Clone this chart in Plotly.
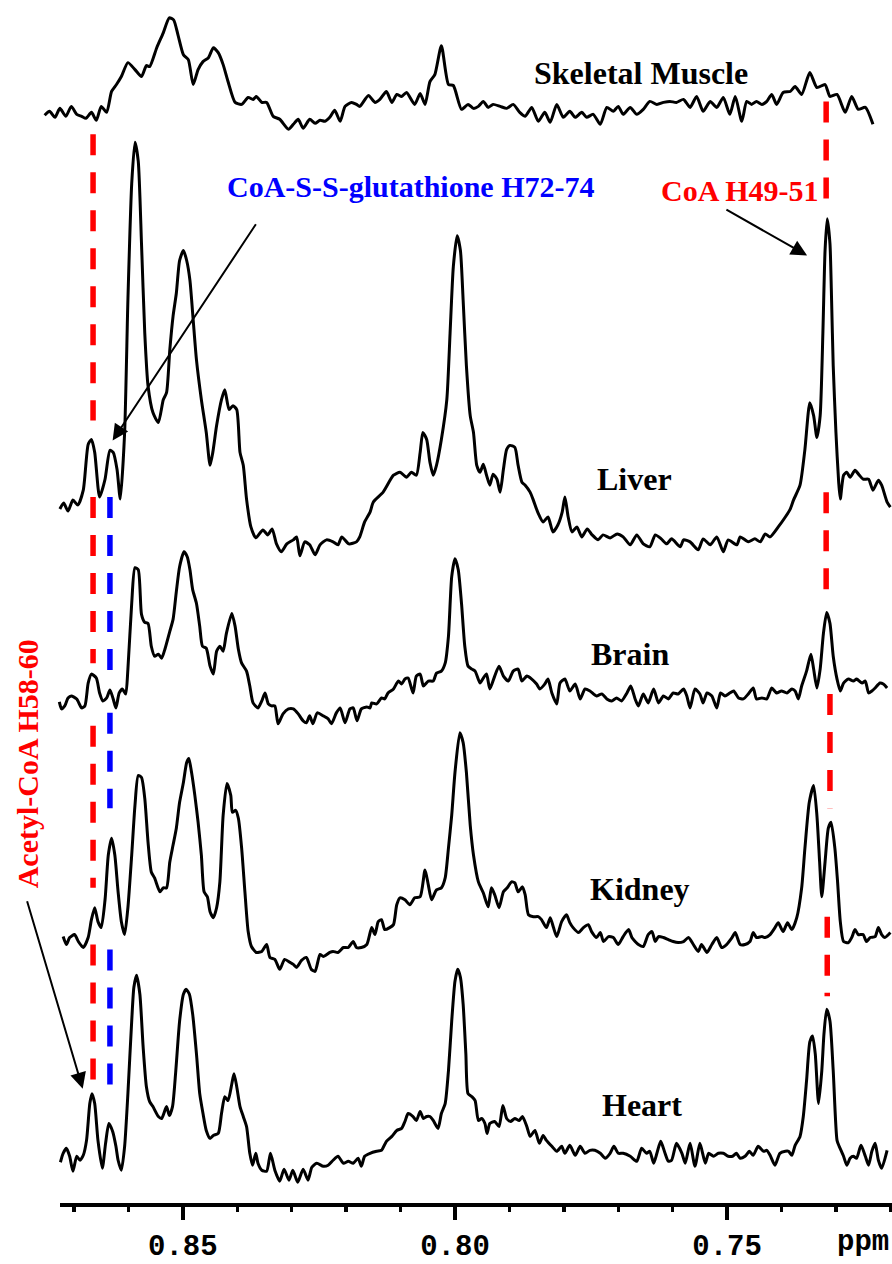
import plotly.graph_objects as go

# ---------------- data (ppm, intensity above own baseline, a.u.) ----------------
tick_major = [0.85, 0.80, 0.75]
tick_major_text = ["0.85", "0.80", "0.75"]
tick_minor = [0.87, 0.86, 0.84, 0.83, 0.82, 0.81, 0.79, 0.78, 0.77, 0.76, 0.74, 0.73, 0.72]

skeletal = [(0.8754,9),(0.8745,13),(0.8735,7),(0.8726,16),(0.8715,8),(0.8705,18),(0.8695,10),(0.8686,8),(0.8678,6),(0.8668,12),
 (0.8659,4),(0.8650,18),(0.8640,12),(0.8631,33),(0.8622,40),(0.8613,48),(0.8601,62),(0.8588,55),(0.8576,48),(0.8567,59),
 (0.8561,58),(0.8548,77),(0.8536,92),(0.8525,107),(0.8517,105),(0.8509,90),(0.8499,70),(0.8490,65),(0.8481,40),(0.8472,55),
 (0.8463,63),(0.8453,67),(0.8444,77),(0.8435,72),(0.8426,60),(0.8417,43),(0.8404,22),(0.8392,20),(0.8380,27),(0.8371,25),
 (0.8365,28),(0.8355,22),(0.8346,22),(0.8334,8),(0.8322,5),(0.8306,-5),(0.8297,0),(0.8288,5),(0.8279,-4),(0.8267,5),
 (0.8257,1),(0.8248,4),(0.8239,3),(0.8230,7),(0.8221,14),(0.8211,3),(0.8202,18),(0.8190,22),(0.8181,20),(0.8175,18),
 (0.8159,29),(0.8147,22),(0.8138,25),(0.8126,33),(0.8116,22),(0.8107,30),(0.8098,28),(0.8089,32),(0.8074,20),(0.8064,31),
 (0.8055,20),(0.8046,43),(0.8037,50),(0.8025,79),(0.8012,40),(0.8003,39),(0.7988,15),(0.7976,20),(0.7966,16),(0.7957,18),
 (0.7948,23),(0.7939,17),(0.7930,20),(0.7917,18),(0.7905,16),(0.7893,20),(0.7881,12),(0.7871,8),(0.7859,17),(0.7847,3),
 (0.7835,12),(0.7825,2),(0.7813,20),(0.7801,7),(0.7789,13),(0.7779,7),(0.7767,12),(0.7758,7),(0.7746,10),(0.7733,0),
 (0.7721,17),(0.7709,13),(0.7700,18),(0.7691,10),(0.7678,17),(0.7666,10),(0.7654,15),(0.7642,23),(0.7629,20),(0.7617,22),
 (0.7605,23),(0.7593,22),(0.7580,25),(0.7568,17),(0.7556,28),(0.7544,13),(0.7531,23),(0.7519,17),(0.7507,27),(0.7495,10),
 (0.7485,28),(0.7473,3),(0.7464,23),(0.7455,20),(0.7446,23),(0.7436,20),(0.7427,23),(0.7418,30),(0.7409,20),(0.7397,32),
 (0.7384,33),(0.7375,38),(0.7363,30),(0.7348,52),(0.7335,37),(0.7320,40),(0.7311,28),(0.7298,30),(0.7283,12),(0.7271,28),
 (0.7259,15),(0.7246,17),(0.7232,0)]

liver = [(0.8726,33),(0.8719,39),(0.8711,31),(0.8702,42),(0.8693,37),(0.8683,52),(0.8674,98),(0.8668,103),(0.8662,90),(0.8653,45),
 (0.8643,63),(0.8634,92),(0.8628,90),(0.8621,73),(0.8615,43),(0.8607,110),(0.8601,243),(0.8594,360),(0.8588,402),(0.8582,383),
 (0.8576,300),(0.8570,210),(0.8564,157),(0.8555,130),(0.8545,120),(0.8536,143),(0.8530,150),(0.8524,193),(0.8518,227),(0.8512,250),
 (0.8506,283),(0.8499,293),(0.8493,283),(0.8487,263),(0.8481,223),(0.8475,183),(0.8466,143),(0.8457,110),(0.8450,77),(0.8445,90),
 (0.8438,117),(0.8429,143),(0.8423,153),(0.8415,133),(0.8408,137),(0.8401,133),(0.8395,90),(0.8389,77),(0.8383,43),(0.8375,15),
 (0.8366,4),(0.8353,12),(0.8344,7),(0.8336,13),(0.8328,-2),(0.8319,-10),(0.8309,-2),(0.8297,2),(0.8291,5),(0.8285,-14),
 (0.8276,0),(0.8267,-3),(0.8257,-13),(0.8248,-3),(0.8236,2),(0.8224,0),(0.8215,-3),(0.8208,5),(0.8195,-2),(0.8181,0),
 (0.8175,5),(0.8166,20),(0.8156,30),(0.8150,40),(0.8132,50),(0.8113,67),(0.8101,70),(0.8089,65),(0.8080,70),(0.8071,67),
 (0.8064,90),(0.8059,110),(0.8052,103),(0.8046,80),(0.8040,67),(0.8034,77),(0.8025,103),(0.8015,143),(0.8009,210),(0.8003,277),
 (0.7996,308),(0.7990,293),(0.7985,243),(0.7979,177),(0.7972,127),(0.7966,110),(0.7960,77),(0.7954,70),(0.7948,78),(0.7942,67),
 (0.7936,57),(0.7930,68),(0.7923,63),(0.7917,50),(0.7911,73),(0.7905,93),(0.7899,97),(0.7890,95),(0.7884,77),(0.7877,60),
 (0.7871,57),(0.7862,50),(0.7856,42),(0.7848,30),(0.7838,20),(0.7829,25),(0.7820,10),(0.7811,17),(0.7803,30),(0.7798,45),
 (0.7792,25),(0.7785,10),(0.7776,15),(0.7767,5),(0.7757,13),(0.7748,7),(0.7737,2),(0.7728,7),(0.7715,4),(0.7702,8),
 (0.7691,5),(0.7678,-3),(0.7666,7),(0.7654,-2),(0.7642,-5),(0.7632,7),(0.7621,3),(0.7611,-2),(0.7602,3),(0.7586,-5),
 (0.7580,2),(0.7568,0),(0.7553,-8),(0.7544,3),(0.7531,-3),(0.7519,5),(0.7507,-10),(0.7498,2),(0.7482,-3),(0.7476,5),
 (0.7461,0),(0.7449,3),(0.7439,0),(0.7430,8),(0.7421,5),(0.7406,15),(0.7393,25),(0.7384,33),(0.7378,42),(0.7366,57),
 (0.7357,93),(0.7348,140),(0.7341,127),(0.7335,105),(0.7329,127),(0.7324,210),(0.7320,293),(0.7316,325),(0.7311,300),(0.7308,243),
 (0.7305,177),(0.7300,110),(0.7295,60),(0.7292,43),(0.7286,67),(0.7280,70),(0.7274,65),(0.7265,72),(0.7257,67),(0.7250,63),
 (0.7240,63),(0.7232,52),(0.7222,62),(0.7216,57),(0.7206,40),(0.7200,35)]

brain = [(0.8727,4),(0.8723,-3),(0.8717,0),(0.8711,8),(0.8705,10),(0.8695,7),(0.8686,-2),(0.8680,0),(0.8674,23),(0.8668,32),
 (0.8659,28),(0.8653,13),(0.8647,5),(0.8640,8),(0.8634,16),(0.8628,7),(0.8623,-2),(0.8617,13),(0.8611,17),(0.8605,12),
 (0.8601,37),(0.8594,103),(0.8588,139),(0.8582,137),(0.8576,92),(0.8570,84),(0.8564,83),(0.8558,60),(0.8552,50),(0.8545,52),
 (0.8539,48),(0.8533,57),(0.8524,75),(0.8518,87),(0.8512,115),(0.8506,140),(0.8498,155),(0.8492,150),(0.8487,137),(0.8482,117),
 (0.8475,103),(0.8469,80),(0.8464,60),(0.8457,58),(0.8450,40),(0.8444,32),(0.8438,55),(0.8432,60),(0.8426,55),(0.8420,73),
 (0.8410,93),(0.8404,80),(0.8398,57),(0.8392,43),(0.8383,35),(0.8377,20),(0.8371,3),(0.8362,-2),(0.8355,5),(0.8349,13),
 (0.8343,2),(0.8337,0),(0.8331,0),(0.8325,-18),(0.8316,-8),(0.8306,-3),(0.8297,-3),(0.8288,-8),(0.8279,-15),(0.8273,-17),
 (0.8267,-10),(0.8261,-18),(0.8253,-7),(0.8242,-10),(0.8233,-13),(0.8227,-18),(0.8218,-7),(0.8211,-2),(0.8202,-17),(0.8193,-3),
 (0.8187,-2),(0.8180,-15),(0.8172,-3),(0.8162,-1),(0.8156,-2),(0.8153,3),(0.8144,2),(0.8135,8),(0.8129,7),(0.8123,13),
 (0.8113,17),(0.8104,25),(0.8098,22),(0.8092,27),(0.8086,28),(0.8077,13),(0.8071,30),(0.8064,32),(0.8058,20),(0.8049,25),
 (0.8040,25),(0.8034,33),(0.8025,35),(0.8018,43),(0.8012,70),(0.8006,130),(0.8000,148),(0.7994,137),(0.7988,103),(0.7982,60),
 (0.7976,40),(0.7969,37),(0.7963,35),(0.7954,23),(0.7948,28),(0.7942,32),(0.7936,17),(0.7927,30),(0.7919,40),(0.7911,30),
 (0.7902,25),(0.7893,35),(0.7884,37),(0.7877,25),(0.7868,30),(0.7859,27),(0.7850,22),(0.7844,17),(0.7835,22),(0.7829,27),
 (0.7822,13),(0.7813,2),(0.7807,23),(0.7798,27),(0.7789,15),(0.7779,22),(0.7770,7),(0.7761,17),(0.7752,15),(0.7740,10),
 (0.7730,12),(0.7721,7),(0.7712,5),(0.7703,8),(0.7694,5),(0.7684,13),(0.7677,20),(0.7669,7),(0.7663,0),(0.7654,12),
 (0.7645,3),(0.7635,17),(0.7626,3),(0.7617,10),(0.7608,7),(0.7599,13),(0.7590,12),(0.7580,17),(0.7574,10),(0.7568,-2),
 (0.7559,17),(0.7550,12),(0.7544,3),(0.7537,13),(0.7528,10),(0.7519,-2),(0.7512,13),(0.7504,10),(0.7495,13),(0.7488,15),
 (0.7479,8),(0.7470,7),(0.7461,12),(0.7452,18),(0.7446,7),(0.7436,8),(0.7427,7),(0.7418,18),(0.7409,13),(0.7400,15),
 (0.7390,13),(0.7381,17),(0.7375,15),(0.7369,7),(0.7363,20),(0.7354,35),(0.7346,52),(0.7341,37),(0.7335,18),(0.7329,37),
 (0.7323,73),(0.7317,94),(0.7311,83),(0.7305,50),(0.7298,27),(0.7292,15),(0.7286,23),(0.7277,27),(0.7268,25),(0.7262,27),
 (0.7252,23),(0.7246,25),(0.7240,13),(0.7234,15),(0.7228,18),(0.7219,23),(0.7213,22),(0.7206,18)]

kidney = [(0.8720,13),(0.8714,5),(0.8708,12),(0.8699,15),(0.8692,8),(0.8683,2),(0.8674,12),(0.8668,30),(0.8662,42),(0.8656,28),
 (0.8650,22),(0.8643,50),(0.8637,95),(0.8631,112),(0.8625,95),(0.8619,58),(0.8613,28),(0.8607,15),(0.8601,42),(0.8594,95),
 (0.8588,145),(0.8582,175),(0.8576,173),(0.8570,152),(0.8564,108),(0.8558,78),(0.8552,72),(0.8542,58),(0.8536,62),(0.8530,62),
 (0.8524,88),(0.8518,105),(0.8512,122),(0.8506,148),(0.8499,168),(0.8493,188),(0.8489,192),(0.8484,178),(0.8478,155),(0.8472,128),
 (0.8466,95),(0.8461,58),(0.8455,53),(0.8450,38),(0.8444,32),(0.8438,42),(0.8432,68),(0.8426,135),(0.8419,167),(0.8412,155),
 (0.8409,138),(0.8403,140),(0.8398,132),(0.8392,102),(0.8386,58),(0.8380,18),(0.8374,3),(0.8365,-3),(0.8355,-2),(0.8346,5),
 (0.8340,-8),(0.8331,-10),(0.8322,-20),(0.8313,-10),(0.8303,-13),(0.8297,-15),(0.8291,-18),(0.8282,-11),(0.8273,-8),(0.8264,-20),
 (0.8257,-22),(0.8248,-5),(0.8242,-7),(0.8230,-3),(0.8224,-2),(0.8215,-3),(0.8205,2),(0.8196,2),(0.8187,8),(0.8181,2),
 (0.8172,2),(0.8162,5),(0.8153,22),(0.8147,15),(0.8141,28),(0.8135,30),(0.8129,20),(0.8120,22),(0.8113,25),(0.8107,45),
 (0.8101,52),(0.8092,50),(0.8083,45),(0.8074,52),(0.8064,53),(0.8055,80),(0.8049,65),(0.8043,50),(0.8034,60),(0.8025,62),
 (0.8018,72),(0.8012,102),(0.8006,135),(0.8000,178),(0.7991,218),(0.7985,208),(0.7979,178),(0.7972,125),(0.7966,95),(0.7957,68),
 (0.7948,57),(0.7939,43),(0.7933,62),(0.7927,55),(0.7919,42),(0.7911,58),(0.7904,62),(0.7896,68),(0.7890,67),(0.7884,58),
 (0.7876,63),(0.7871,55),(0.7865,35),(0.7856,33),(0.7847,33),(0.7841,30),(0.7832,22),(0.7825,32),(0.7819,22),(0.7813,13),
 (0.7804,28),(0.7795,35),(0.7789,27),(0.7783,22),(0.7773,17),(0.7764,22),(0.7755,25),(0.7749,18),(0.7740,12),(0.7733,17),
 (0.7727,8),(0.7718,13),(0.7709,12),(0.7700,5),(0.7691,13),(0.7681,20),(0.7675,12),(0.7669,8),(0.7663,5),(0.7654,3),
 (0.7645,15),(0.7638,18),(0.7632,8),(0.7626,13),(0.7617,12),(0.7608,10),(0.7599,8),(0.7590,7),(0.7580,8),(0.7571,12),
 (0.7562,5),(0.7553,-2),(0.7547,5),(0.7537,-3),(0.7528,5),(0.7519,12),(0.7510,2),(0.7501,5),(0.7491,12),(0.7485,17),
 (0.7476,5),(0.7467,5),(0.7458,8),(0.7452,17),(0.7446,12),(0.7436,13),(0.7430,12),(0.7421,15),(0.7412,22),(0.7406,27),
 (0.7397,18),(0.7389,27),(0.7381,20),(0.7372,32),(0.7363,62),(0.7357,102),(0.7349,148),(0.7341,165),(0.7335,135),(0.7330,88),
 (0.7326,53),(0.7320,88),(0.7314,122),(0.7309,128),(0.7302,102),(0.7297,68),(0.7292,28),(0.7286,8),(0.7277,7),(0.7271,12),
 (0.7265,20),(0.7259,15),(0.7250,15),(0.7244,8),(0.7237,12),(0.7228,13),(0.7222,22),(0.7216,15),(0.7210,12),(0.7200,17)]

heart = [(0.8725,3),(0.8720,12),(0.8714,17),(0.8708,9),(0.8702,-6),(0.8695,9),(0.8689,5),(0.8683,10),(0.8677,25),(0.8671,62),
 (0.8667,72),(0.8662,62),(0.8656,25),(0.8648,-3),(0.8642,22),(0.8636,42),(0.8629,34),(0.8623,19),(0.8619,5),(0.8613,-5),
 (0.8607,19),(0.8601,72),(0.8594,145),(0.8590,179),(0.8585,191),(0.8579,172),(0.8573,119),(0.8567,79),(0.8561,64),(0.8555,59),
 (0.8545,49),(0.8539,47),(0.8530,59),(0.8525,50),(0.8519,59),(0.8513,95),(0.8506,145),(0.8499,172),(0.8494,177),(0.8488,172),
 (0.8482,152),(0.8475,112),(0.8469,72),(0.8463,52),(0.8457,35),(0.8450,27),(0.8444,30),(0.8435,32),(0.8429,52),(0.8423,69),
 (0.8417,65),(0.8410,82),(0.8406,92),(0.8401,79),(0.8395,59),(0.8389,49),(0.8383,39),(0.8377,12),(0.8372,0),(0.8366,12),
 (0.8362,2),(0.8355,-5),(0.8346,-6),(0.8339,12),(0.8331,-5),(0.8322,-16),(0.8314,-4),(0.8305,-15),(0.8298,-5),(0.8289,-17),
 (0.8279,-4),(0.8270,-15),(0.8263,-2),(0.8254,2),(0.8242,-1),(0.8233,0),(0.8224,5),(0.8215,9),(0.8205,2),(0.8196,4),
 (0.8187,2),(0.8178,7),(0.8172,-1),(0.8166,9),(0.8156,12),(0.8144,14),(0.8135,15),(0.8126,24),(0.8116,29),(0.8107,35),
 (0.8098,37),(0.8092,44),(0.8086,52),(0.8077,49),(0.8071,45),(0.8064,54),(0.8058,47),(0.8052,49),(0.8046,49),(0.8040,45),
 (0.8031,37),(0.8025,52),(0.8018,62),(0.8012,95),(0.8006,145),(0.8000,185),(0.7995,197),(0.7990,189),(0.7985,162),(0.7980,112),
 (0.7976,72),(0.7969,69),(0.7963,65),(0.7957,45),(0.7951,47),(0.7945,42),(0.7941,32),(0.7936,42),(0.7927,44),(0.7919,39),
 (0.7912,60),(0.7905,47),(0.7898,44),(0.7890,47),(0.7882,45),(0.7876,49),(0.7868,39),(0.7862,29),(0.7853,35),(0.7845,22),
 (0.7838,30),(0.7832,25),(0.7822,19),(0.7813,14),(0.7804,19),(0.7798,12),(0.7789,20),(0.7779,10),(0.7770,19),(0.7761,12),
 (0.7752,15),(0.7743,15),(0.7733,12),(0.7724,7),(0.7715,12),(0.7708,19),(0.7700,12),(0.7691,12),(0.7678,9),(0.7666,4),
 (0.7657,17),(0.7648,12),(0.7642,14),(0.7635,2),(0.7629,12),(0.7622,24),(0.7614,12),(0.7608,4),(0.7602,5),(0.7593,22),
 (0.7583,12),(0.7577,2),(0.7568,22),(0.7559,-1),(0.7550,22),(0.7540,2),(0.7534,12),(0.7525,9),(0.7516,12),(0.7507,12),
 (0.7498,9),(0.7490,9),(0.7483,12),(0.7476,7),(0.7467,9),(0.7459,14),(0.7452,10),(0.7443,19),(0.7433,14),(0.7427,15),
 (0.7421,10),(0.7412,0),(0.7403,12),(0.7393,14),(0.7387,14),(0.7381,10),(0.7375,20),(0.7366,29),(0.7360,49),(0.7354,85),
 (0.7348,124),(0.7343,130),(0.7338,112),(0.7332,62),(0.7326,95),(0.7322,132),(0.7317,157),(0.7311,145),(0.7305,95),(0.7298,25),
 (0.7294,19),(0.7286,9),(0.7280,0),(0.7274,7),(0.7268,9),(0.7262,7),(0.7254,20),(0.7246,9),(0.7240,0),(0.7234,14),
 (0.7228,22),(0.7222,5),(0.7216,-3),(0.7206,15)]

tissue_names = ["Skeletal Muscle", "Liver", "Brain", "Kidney", "Heart"]
spectra = [skeletal, liver, brain, kidney, heart]

# ---------------- layout / positions ----------------
W, H = 892, 1264
PLOT_H = 1212                      # plot area height (y units = px)
offsets = [1087, 667, 502, 257, 40]   # vertical stacking offsets
label_pos = [(0.7658, 1139), (0.7671, 730), (0.7678, 554), (0.7660, 318), (0.7656, 101)]

fig = go.Figure()
for pts, off, name in zip(spectra, offsets, tissue_names):
    xs = [p[0] for p in pts]
    ys = [p[1] + off for p in pts]
    fig.add_trace(go.Scatter(x=xs, y=ys, mode="lines", name=name,
                             line=dict(color="black", width=3, shape="spline", smoothing=0.6),
                             hoverinfo="skip", showlegend=False))

annotations = []
serif = "Liberation Serif"
mono = "Liberation Mono"
for name, (lx, ly) in zip(tissue_names, label_pos):
    annotations.append(dict(x=lx, y=ly, xref="x", yref="y", text=f"<b>{name}</b>", showarrow=False,
                            font=dict(family=serif, size=32, color="black"),
                            xanchor="center", yanchor="middle"))

annotations += [
    dict(x=0.8080, y=1024, xref="x", yref="y", text="<b>CoA-S-S-glutathione H72-74</b>", showarrow=False,
         font=dict(family=serif, size=30, color="#0000ff"), xanchor="center", yanchor="middle"),
    dict(x=0.7476, y=1020, xref="x", yref="y", text="<b>CoA H49-51</b>", showarrow=False,
         font=dict(family=serif, size=30, color="#ff0000"), xanchor="center", yanchor="middle"),
    dict(x=0.8785, y=444, xref="x", yref="y", text="<b>Acetyl-CoA H58-60</b>", showarrow=False, textangle=-90,
         font=dict(family=serif, size=30, color="#ff0000"), xanchor="center", yanchor="middle"),
    # arrows
    dict(x=0.8629, y=769, ax=0.8364, ay=988, xref="x", yref="y", axref="x", ayref="y", text="",
         showarrow=True, arrowhead=2, arrowsize=1.6, arrowwidth=2, arrowcolor="black"),
    dict(x=0.7353, y=955, ax=0.7504, ay=1002, xref="x", yref="y", axref="x", ayref="y", text="",
         showarrow=True, arrowhead=2, arrowsize=1.6, arrowwidth=2, arrowcolor="black"),
    dict(x=0.8684, y=117, ax=0.8787, ay=307, xref="x", yref="y", axref="x", ayref="y", text="",
         showarrow=True, arrowhead=2, arrowsize=1.6, arrowwidth=2, arrowcolor="black"),
    # axis unit
    dict(x=863 / W, y=-0.016, xref="paper", yref="paper", text="ppm", showarrow=False,
         font=dict(family=mono, size=29, color="black", weight="bold"),
         xanchor="center", yanchor="top"),
]

# dashed marker lines (ppm position, list of [top, bottom] y-extents)
dash_red_left = (0.8665, [(1077, 789), (712, 545), (482, 319), (262, 125)])
dash_blue = (0.8634, [(712, 537), (495, 399), (257, 120)])
dash_red_right = [(0.7318, (1110, 1011)), (0.7318, (717, 619)), (0.7311, (514, 399)), (0.7316, (290, 210))]

shapes = []
def dashed(x, y0, y1, color):
    shapes.append(dict(type="line", xref="x", yref="y", x0=x, x1=x, y0=y0, y1=y1,
                       line=dict(color=color, width=5.5, dash="21px,17px"), layer="below"))

for y0, y1 in dash_red_left[1]:
    dashed(dash_red_left[0], y0, y1, "#ff0000")
for y0, y1 in dash_blue[1]:
    dashed(dash_blue[0], y0, y1, "#0000ff")
for x, (y0, y1) in dash_red_right:
    dashed(x, y0, y1, "#ff0000")

# axis line (starts a little right of the figure edge)
shapes.append(dict(type="line", xref="paper", yref="paper", x0=60 / W, x1=1, y0=0, y1=0,
                   line=dict(color="black", width=4)))

fig.update_layout(
    width=W, height=H,
    margin=dict(l=0, r=0, t=0, b=H - PLOT_H, pad=0),
    paper_bgcolor="white", plot_bgcolor="white",
    showlegend=False,
    annotations=annotations,
    shapes=shapes,
    xaxis=dict(range=[0.8836, 0.7197], showgrid=False, zeroline=False, showline=False,
               tickvals=tick_major, ticktext=tick_major_text, ticks="outside", ticklen=14,
               tickwidth=3.5, tickcolor="black",
               tickfont=dict(family=mono, size=29, color="black", weight="bold"),
               minor=dict(tickvals=tick_minor, ticks="outside", ticklen=6, tickwidth=3.5, tickcolor="black",
                          showgrid=False),
               fixedrange=True),
    yaxis=dict(range=[0, PLOT_H], visible=False, showgrid=False, zeroline=False, fixedrange=True),
)

fig.write_html("out.html", config={"displayModeBar": False, "staticPlot": True},
               post_script="document.body.style.margin='0px';document.body.style.padding='0px';")
